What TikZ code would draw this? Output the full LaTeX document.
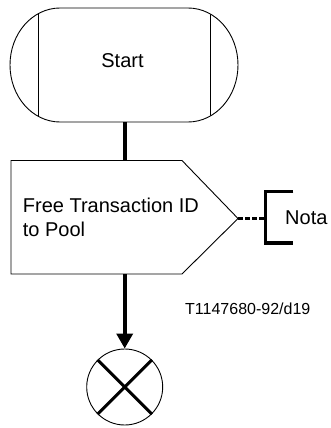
\documentclass[tikz,border=0pt]{standalone}
\usepackage{fontspec}
\setmainfont{Liberation Sans}
\usetikzlibrary{arrows.meta}
\begin{document}
\begin{tikzpicture}[x=1pt,y=-1pt,
  outline/.style={draw=black,line width=0.9pt,line join=miter},
  conn/.style={draw=black,line width=3.6pt},
  bigtext/.style={font=\fontsize{20}{24}\selectfont,inner sep=0pt},
  smalltext/.style={font=\fontsize{16}{19}\selectfont,inner sep=0pt}]
\useasboundingbox (0,0) rectangle (331,428);
% Start terminator
\path[outline] (60,8) -- (188,8) arc[start angle=-90,end angle=90,x radius=50,y radius=57]
  -- (60,122) arc[start angle=90,end angle=270,x radius=50,y radius=57] -- cycle;
\begin{scope}
\clip (60,8) -- (188,8) arc[start angle=-90,end angle=90,x radius=50,y radius=57]
  -- (60,122) arc[start angle=90,end angle=270,x radius=50,y radius=57] -- cycle;
\draw[line width=0.9pt] (38,0) -- (38,130) (210,0) -- (210,130);
\end{scope}
\node[bigtext,anchor=base] (start) at (122.5,67.7) {Start};
\coordinate (startbot) at (124.7,122);
% Process box
\coordinate (boxtop) at (124.7,160.5);
\coordinate (boxbot) at (124.7,274);
\coordinate (boxtip) at (238,218.5);
\path[outline] (11,160.5) -- (182,160.5) -- (boxtip) -- (182,274) -- (11,274) -- cycle;
\node[bigtext,anchor=north west,align=left] (task) at (22.7,197.4) {Free Transaction ID\\to Pool};
% Comment bracket
\coordinate (brk) at (265.5,218.5);
\draw[conn,line cap=butt,line join=miter] (293.3,191.3) -- (265.5,191.3) -- (265.5,243) -- (293.3,243);
\node[bigtext,anchor=base west] (nota) at (285,224) {Nota};
\draw[conn,dash pattern=on 5pt off 2pt] (boxtip) -- (brk);
% Stop
\node[circle,draw=black,line width=0.9pt,minimum size=76pt,inner sep=0pt] (stop) at (124.7,387) {};
\draw[line width=3pt] (stop.45) -- (stop.225) (stop.135) -- (stop.315);
% Connectors
\draw[conn] (startbot) -- (boxtop);
\draw[conn,-{Triangle[length=15pt,width=16pt]}] (boxbot) -- (stop.north);
% Label
\node[smalltext,anchor=base west] (ref) at (185,314.3) {T1147680-92/d19};
\end{tikzpicture}
\end{document}
